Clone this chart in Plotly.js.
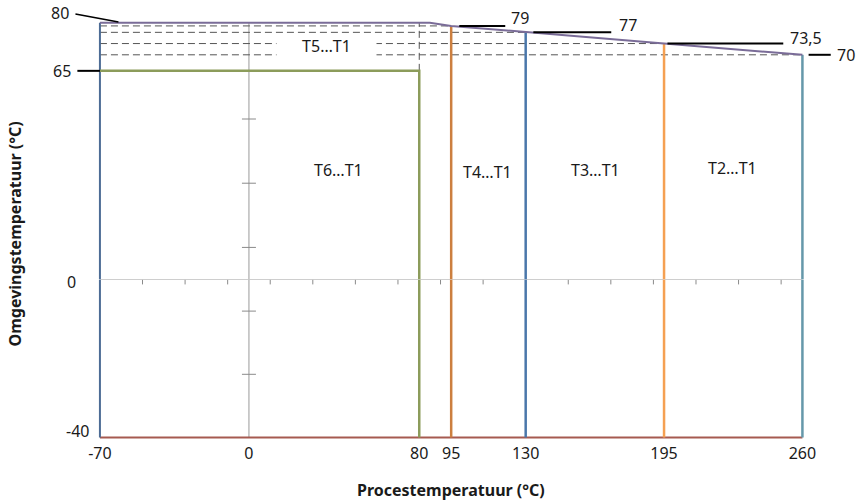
<!DOCTYPE html>
<html>
<head>
<meta charset="utf-8">
<script src="https://cdn.plot.ly/plotly-3.0.1.min.js"></script>
<style>html,body{margin:0;padding:0;background:#fff;}#chart{width:862px;height:501px;}</style>
</head>
<body>
<div id="chart"></div>
<script>
// ---- data ----
const xMin = -70, xMax = 260, yMin = -40, yMax = 80;
const zoneX = [95, 130, 195, 260];
const zoneTop = [79, 77, 73.5, 70];
const t6X = 80, t6Top = 65;
const topLineX = [-70, 85, 95, 130, 195, 260];
const topLineY = [80, 80, 79, 77, 73.5, 70];
const xTickVals = [-70, 0, 80, 95, 130, 195, 260];
const xTickText = ['-70', '0', '80', '95', '130', '195', '260'];
const xMinorTicks = [-50, -30, -10, 10, 30, 50, 70, 90, 110, 130, 150, 170, 190, 210, 230, 250];
const yMinorTicksUpper = [10, 30, 50];
const yMinorTicksLower = [-8, -24];
const zoneLabels = ['T6…T1', 'T4…T1', 'T3…T1', 'T2…T1'];
const zoneLabelX = [42, 112, 163, 227];
const zoneLabelY = [34, 33.5, 34, 34.7];
const t5Label = 'T5…T1', t5X = 36.6, t5Y = 72.6;
const calloutText = ['80', '65', '79', '77', '73,5', '70'];
const calloutVal = [80, 65, 79, 77, 73.5, 70];

// ---- styles / positions ----
const FONT = '"Noto Sans", "Open Sans", sans-serif';
const zoneColors = ['#cc7f3f', '#4a77aa', '#f5a052', '#6598aa'];
const leftColor = '#4d6c95', bottomColor = '#a65a50', greenColor = '#8c9c5b', topColor = '#7a6c98';
const axisGray = '#9a9a9a', dashColor = '#555555';
// callout segments [x0, x1, yStart, yEnd] and text offsets
const calloutSeg = [[-81.5, -61.3, 82.7, 80.2], [-80.6, -70], [98.8, 120.4], [133.6, 170.2], [196.6, 251], [262.9, 273.3]];
const calloutTextPos = [
  {x: -81.5, y: 83, xanchor: 'right', xshift: -4, yshift: 0},
  {x: -80.6, y: 65, xanchor: 'right', xshift: -4, yshift: 0},
  {x: 120.4, y: 79, xanchor: 'left', xshift: 4, yshift: 8},
  {x: 170.2, y: 77, xanchor: 'left', xshift: 6, yshift: 7},
  {x: 251, y: 73.5, xanchor: 'left', xshift: 5, yshift: 6},
  {x: 273.3, y: 70, xanchor: 'left', xshift: 4, yshift: 0}
];

const traces = [];
function seg(x, y, axis, color, width, dash) {
  traces.push({x: x, y: y, yaxis: axis, type: 'scatter', mode: 'lines',
    line: {color: color, width: width, dash: dash || 'solid'}, hoverinfo: 'skip', showlegend: false});
}
// vertical line split across lower (y) and upper (y2) axes
function vline(x, top, color, width) {
  seg([x, x], [yMin, 0], 'y', color, width);
  seg([x, x], [0, top], 'y2', color, width);
}

// gray cross axes
seg([xMin, xMax], [0, 0], 'y', axisGray, 1);
seg([0, 0], [yMin, 0], 'y', axisGray, 1);
seg([0, 0], [0, yMax], 'y2', axisGray, 1);
traces.push({x: xMinorTicks, y: xMinorTicks.map(() => 0), yaxis: 'y', type: 'scatter', mode: 'markers',
  marker: {symbol: 'line-ns-open', size: 7, color: '#8a8a8a', line: {width: 1, color: '#8a8a8a'}}, hoverinfo: 'skip', showlegend: false, cliponaxis: false});
traces.push({x: yMinorTicksUpper.map(() => 0), y: yMinorTicksUpper, yaxis: 'y2', type: 'scatter', mode: 'markers',
  marker: {symbol: 'line-ew-open', size: 10, color: '#8a8a8a', line: {width: 1, color: '#8a8a8a'}}, hoverinfo: 'skip', showlegend: false});
traces.push({x: yMinorTicksLower.map(() => 0), y: yMinorTicksLower, yaxis: 'y', type: 'scatter', mode: 'markers',
  marker: {symbol: 'line-ew-open', size: 10, color: '#8a8a8a', line: {width: 1, color: '#8a8a8a'}}, hoverinfo: 'skip', showlegend: false});

// dashed guide lines
zoneX.forEach((zx, i) => seg([xMin, zx], [zoneTop[i], zoneTop[i]], 'y2', dashColor, 1, '7px,4px'));
seg([t6X, t6X], [t6Top, yMax], 'y2', dashColor, 1, '7px,4px');

// boundaries
seg([xMin, xMax], [yMin, yMin], 'y', bottomColor, 2);
vline(xMin, yMax, leftColor, 2);
seg([xMin, t6X, t6X], [t6Top, t6Top, 0], 'y2', greenColor, 2.5);
seg([t6X, t6X], [0, yMin], 'y', greenColor, 2.5);
zoneX.forEach((zx, i) => vline(zx, zoneTop[i], zoneColors[i], 2.5));
seg(topLineX, topLineY, 'y2', topColor, 2);

// annotations
const annotations = [];
zoneLabels.forEach((t, i) => annotations.push({x: zoneLabelX[i], y: zoneLabelY[i], xref: 'x', yref: 'y2', text: t,
  showarrow: false, font: {family: FONT, size: 16, color: '#1a1a1a'}}));
annotations.push({x: t5X, y: t5Y, xref: 'x', yref: 'y2', text: t5Label, showarrow: false, bgcolor: '#ffffff',
  width: 97, height: 22, font: {family: FONT, size: 16, color: '#1a1a1a'}});
calloutText.forEach((t, i) => {
  const p = calloutTextPos[i];
  annotations.push({x: p.x, y: p.y, xref: 'x', yref: 'y2', text: t, showarrow: false, xanchor: p.xanchor,
    yanchor: 'middle', xshift: p.xshift, yshift: p.yshift, font: {family: FONT, size: 16, color: '#1a1a1a'}});
});
annotations.push({x: xMin, y: 0, xref: 'x', yref: 'y2', text: '0', showarrow: false, xanchor: 'right', yanchor: 'middle',
  xshift: -22, yshift: -2, font: {family: FONT, size: 16, color: '#1a1a1a'}});
annotations.push({x: xMin, y: yMin, xref: 'x', yref: 'y', text: '-40', showarrow: false, xanchor: 'right', yanchor: 'middle',
  xshift: -9, yshift: 6, font: {family: FONT, size: 16, color: '#1a1a1a'}});
annotations.push({x: 0.4929, y: -0.108, xref: 'paper', yref: 'paper', text: '<b>Procestemperatuur (°C)</b>', showarrow: false,
  xanchor: 'center', yanchor: 'middle', font: {family: FONT, size: 16, color: '#1a1a1a'}});
annotations.push({x: -0.068, y: 0.47, xref: 'paper', yref: 'paper', text: '<b>Omgevingstemperatuur (°C)</b>', showarrow: false,
  textangle: -90, xanchor: 'center', yanchor: 'middle', font: {family: FONT, size: 16, color: '#1a1a1a'}});

const shapes = calloutSeg.map((s, i) => ({type: 'line', xref: 'x', yref: 'y2', layer: 'above',
  x0: s[0], x1: s[1], y0: s.length > 2 ? s[2] : calloutVal[i], y1: s.length > 2 ? s[3] : calloutVal[i],
  line: {color: '#000000', width: i === 0 ? 1.5 : 2}}));

const layout = {
  width: 862, height: 501,
  margin: {l: 68, r: 17, t: 0, b: 59},
  paper_bgcolor: '#ffffff', plot_bgcolor: '#ffffff',
  showlegend: false,
  font: {family: FONT, size: 16, color: '#1a1a1a'},
  xaxis: {range: [-85, 280], showgrid: false, zeroline: false, showline: false, anchor: 'y',
    tickmode: 'array', tickvals: xTickVals, ticktext: xTickText, ticks: 'outside', ticklen: 0,
    ticklabelstandoff: -3,
    tickfont: {family: FONT, size: 16, color: '#1a1a1a'}},
  yaxis: {domain: [0, 0.3855], range: [-41.14, 2], showgrid: false, zeroline: false, showline: false,
    showticklabels: false, ticks: ''},
  yaxis2: {domain: [0.3676, 1], range: [0, 87.07], showgrid: false, zeroline: false, showline: false,
    showticklabels: false, ticks: '', anchor: 'x'},
  annotations: annotations,
  shapes: shapes
};

Plotly.newPlot('chart', traces, layout, {staticPlot: true, displayModeBar: false});
</script>
</body>
</html>
